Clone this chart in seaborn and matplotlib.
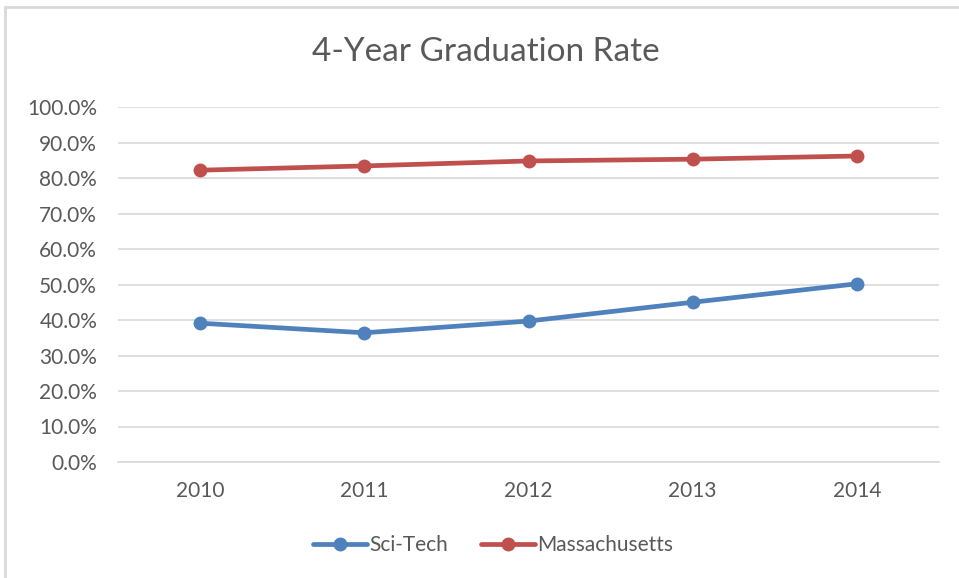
import matplotlib
matplotlib.use("Agg")
import matplotlib.pyplot as plt
from matplotlib.lines import Line2D
from matplotlib.ticker import PercentFormatter
import seaborn as sns
import pandas as pd

years = ["2010", "2011", "2012", "2013", "2014"]
sci_tech = [0.391, 0.364, 0.397, 0.450, 0.502]
massachusetts = [0.822, 0.834, 0.848, 0.853, 0.862]
series_names = ["Sci-Tech", "Massachusetts"]
colors = ["#4F81BD", "#C0504D"]
y_ticks = [0.0, 0.1, 0.2, 0.3, 0.4, 0.5, 0.6, 0.7, 0.8, 0.9, 1.0]

df = pd.DataFrame({
    "Year": years * 2,
    "Rate": sci_tech + massachusetts,
    "Series": [series_names[0]] * len(years) + [series_names[1]] * len(years),
})

sns.set_theme(style="white")
plt.rcParams["font.family"] = ["Lato", "DejaVu Sans"]
text_color = "#595959"
grid_color = "#D9D9D9"

fig = plt.figure(figsize=(9.59, 5.78), dpi=100)
ax = fig.add_axes([118 / 959, 1 - 462 / 578, (939 - 118) / 959, (462 - 107) / 578])

sns.lineplot(data=df, x="Year", y="Rate", hue="Series", palette=colors,
             marker="o", markersize=10, linewidth=3.4, markeredgewidth=0,
             sort=False, ax=ax, legend=False)

ax.set_xlim(-0.5, 4.5)
ax.set_ylim(0, 1.0)
ax.set_yticks(y_ticks)
ax.yaxis.set_major_formatter(PercentFormatter(1.0, decimals=1))
ax.grid(axis="y", color=grid_color, linewidth=1.2)
ax.set_axisbelow(True)
for s in ["top", "right", "left"]:
    ax.spines[s].set_visible(False)
ax.spines["bottom"].set_color(grid_color)
ax.spines["bottom"].set_linewidth(1.2)
ax.tick_params(axis="both", length=0, labelsize=15, labelcolor=text_color)
ax.tick_params(axis="y", pad=15)
ax.tick_params(axis="x", pad=14)
ax.set_xlabel("")
ax.set_ylabel("")

fig.text(486 / 959, 1 - 52 / 578, "4-Year Graduation Rate", ha="center", va="center",
         fontsize=24, color=text_color)

handles = [Line2D([0], [0], color=c, marker="o", markersize=10, linewidth=3.4,
                  markeredgewidth=0) for c in colors]
fig.legend(handles, series_names, loc="center", bbox_to_anchor=(493 / 959, 1 - 545 / 578),
           ncol=2, frameon=False, fontsize=15, labelcolor=text_color,
           handlelength=2.6, handletextpad=0.1, columnspacing=1.6)

# chart frame lines (left and top)
fig.add_artist(Line2D([5 / 959, 5 / 959], [0, 1 - 7 / 578], transform=fig.transFigure,
                      color=grid_color, linewidth=2))
fig.add_artist(Line2D([5 / 959, 1], [1 - 7 / 578, 1 - 7 / 578], transform=fig.transFigure,
                      color=grid_color, linewidth=2))

fig.savefig("out.png", dpi=100, facecolor="white")
